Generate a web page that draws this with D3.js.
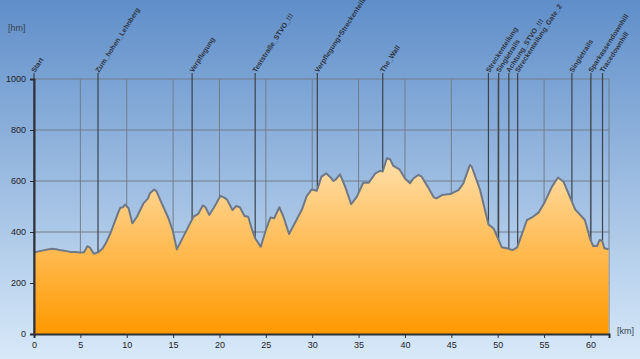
<!DOCTYPE html>
<html>
<head>
<meta charset="utf-8">
<script src="https://cdn.jsdelivr.net/npm/d3@7"></script>
<style>
  html, body { margin: 0; padding: 0; }
  svg { display: block; font-family: "Liberation Sans", Arial, sans-serif; }
</style>
</head>
<body>
<svg id="chart"></svg>
<script>
// profile: distance [km] and elevation [hm]
const distKm = [0, 0.5, 1.0, 1.9, 2.4, 2.9, 3.4, 3.9, 4.4, 5.0, 5.4, 5.75, 6.0, 6.45, 6.9, 7.4, 7.8, 8.3, 8.7, 9.1, 9.3, 9.6, 9.8, 10.2, 10.6, 11.1, 11.5, 11.8, 12.3, 12.5, 12.95, 13.2, 13.8, 14.5, 15.0, 15.4, 16.1, 16.7, 17.2, 17.7, 18.2, 18.45, 18.9, 19.35, 19.7, 20.1, 20.5, 20.8, 21.4, 21.8, 22.2, 22.7, 23.1, 23.5, 23.85, 24.45, 25.0, 25.5, 25.9, 26.45, 26.9, 27.5, 28.3, 28.9, 29.4, 29.95, 30.5, 31.0, 31.5, 31.9, 32.3, 32.5, 33.0, 33.55, 34.2, 34.8, 35.5, 36.1, 36.8, 37.3, 37.6, 38.05, 38.4, 38.75, 39.4, 40.0, 40.55, 40.9, 41.45, 41.8, 42.5, 43.1, 43.4, 44.0, 44.9, 45.8, 46.3, 47.0, 47.2, 48.1, 49.0, 49.55, 50.45, 51.0, 51.6, 52.1, 53.15, 53.7, 54.4, 55.1, 55.85, 56.5, 57.1, 57.9, 58.35, 59.4, 60.0, 60.3, 60.7, 61.0, 61.25, 61.5, 61.95];
const elevM = [320, 324, 328, 334, 332, 328, 326, 322, 322, 320, 321, 344, 340, 315, 320, 335, 360, 400, 440, 478, 495, 497, 508, 493, 434, 460, 490, 512, 532, 552, 567, 560, 510, 454, 400, 332, 382, 425, 460, 471, 504, 499, 467, 493, 515, 542, 535, 528, 486, 502, 497, 463, 460, 410, 375, 342, 408, 457, 454, 497, 460, 392, 447, 489, 541, 567, 562, 617, 630, 617, 600, 605, 626, 578, 509, 538, 593, 593, 630, 640, 637, 689, 685, 659, 646, 610, 591, 610, 624, 617, 575, 536, 532, 545, 549, 565, 591, 663, 656, 565, 430, 414, 340, 336, 329, 340, 447, 457, 476, 519, 578, 614, 597, 528, 489, 447, 369, 345, 345, 369, 366, 336, 332];

// waypoints
const wpNames = ["Start", "Zum_hohen_Lehnberg", "Verpflegung", "Teststraße_STVO_!!!", "Verpflegung+Streckenteilung", "The_Wall", "Streckenteilung", "Singletrails", "Achtung_STVO_!!!", "Streckenteilung_Gate_2", "Singletrails", "Sparkassendownhill", "Tracedownhill"];
const wpKm = [0, 6.9, 17.05, 23.85, 30.55, 37.6, 49.0, 50.1, 51.2, 52.15, 58.0, 60.05, 61.3];

const xTicks = [0, 5, 10, 15, 20, 25, 30, 35, 40, 45, 50, 55, 60];
const yTicks = [0, 200, 400, 600, 800, 1000];

const W = 640, H = 359;
const svg = d3.select("#chart").attr("width", W).attr("height", H);

const x = d3.scaleLinear().domain([0, 62]).range([34, 609]);
const y = d3.scaleLinear().domain([0, 1000]).range([334, 79]);

const defs = svg.append("defs");
const bg = defs.append("linearGradient").attr("id", "bg")
    .attr("x1", 0).attr("y1", 0).attr("x2", 0).attr("y2", 1);
bg.append("stop").attr("offset", "0%").attr("stop-color", "#5f8ec9");
bg.append("stop").attr("offset", "100%").attr("stop-color", "#d8e9f9");

const fill = defs.append("linearGradient").attr("id", "fill")
    .attr("gradientUnits", "userSpaceOnUse")
    .attr("x1", 0).attr("y1", y(700)).attr("x2", 0).attr("y2", y(0));
fill.append("stop").attr("offset", "0%").attr("stop-color", "#ffe0ad");
fill.append("stop").attr("offset", "100%").attr("stop-color", "#ff9900");

svg.append("rect").attr("width", W).attr("height", H).attr("fill", "url(#bg)");

// grid
svg.append("g")
    .selectAll("line")
    .data(yTicks.filter(d => d > 0))
    .enter().append("line")
    .attr("x1", x(0)).attr("x2", x(62))
    .attr("y1", d => y(d)).attr("y2", d => y(d))
    .attr("stroke", "#737d8a").attr("stroke-width", 1);

svg.append("g")
    .selectAll("line")
    .data(xTicks.filter(d => d > 0).concat([62]))
    .enter().append("line")
    .attr("x1", d => x(d)).attr("x2", d => x(d))
    .attr("y1", y(1000)).attr("y2", y(0))
    .attr("stroke", "#737d8a").attr("stroke-width", 1);

// waypoint lines
svg.append("g")
    .selectAll("line")
    .data(wpKm)
    .enter().append("line")
    .attr("x1", d => x(d)).attr("x2", d => x(d))
    .attr("y1", 73).attr("y2", y(0))
    .attr("stroke", "#3c424c").attr("stroke-width", 1.2);

// profile
const pts = distKm.map((d, i) => [d, elevM[i]]);

const area = d3.area()
    .x(d => x(d[0]))
    .y0(y(0))
    .y1(d => y(d[1]));

svg.append("path")
    .datum(pts)
    .attr("d", area)
    .attr("fill", "url(#fill)");

svg.append("path")
    .datum(pts)
    .attr("d", d3.line().x(d => x(d[0])).y(d => y(d[1])))
    .attr("fill", "none")
    .attr("stroke", "#6e7886")
    .attr("stroke-width", 2)
    .attr("stroke-linejoin", "round");

// waypoint labels
svg.append("g")
    .selectAll("text")
    .data(wpNames)
    .enter().append("text")
    .attr("transform", (d, i) => `translate(${x(wpKm[i]) + 1},73) rotate(-57)`)
    .style("font-size", "7px")
    .style("font-weight", "bold")
    .attr("fill", "#2e3440")
    .text(d => d);

// axes
const yAxis = svg.append("g")
    .attr("transform", `translate(${x(0)},0)`)
    .call(d3.axisLeft(y).tickValues(yTicks).tickFormat(d3.format("d")).tickSize(4).tickPadding(4));
const xAxis = svg.append("g")
    .attr("transform", `translate(0,${y(0)})`)
    .call(d3.axisBottom(x).tickValues(xTicks).tickFormat(d3.format("d")).tickSize(4).tickPadding(4));

[yAxis, xAxis].forEach(g => {
    g.select(".domain").attr("stroke", "#2c2f36").attr("stroke-width", 2);
    g.selectAll(".tick line").attr("stroke", "#2c2f36");
    g.selectAll("text")
        .style("font-size", "9px")
        .style("font-family", "'Liberation Sans', Arial, sans-serif")
        .attr("fill", "#1e2228");
});

svg.append("text")
    .attr("x", 8).attr("y", 31)
    .style("font-size", "9px")
    .attr("fill", "#3a4250")
    .text("[hm]");

svg.append("text")
    .attr("x", 617).attr("y", 334)
    .style("font-size", "9px")
    .attr("fill", "#3a4250")
    .text("[km]");
</script>
</body>
</html>
